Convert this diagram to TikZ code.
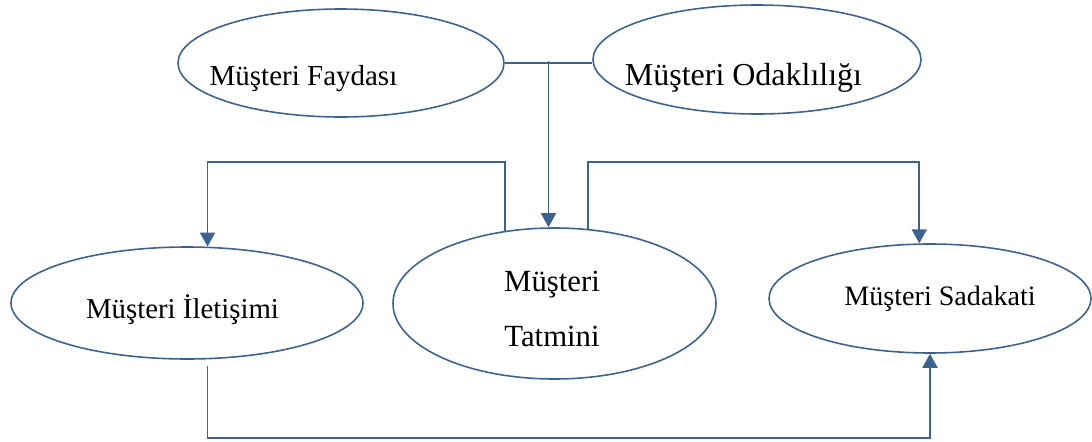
\documentclass[tikz,border=0pt]{standalone}
\usepackage{fontspec}
\setmainfont{Liberation Serif}
\usetikzlibrary{shapes.geometric, arrows.meta, calc}
\definecolor{linkblue}{RGB}{60,98,145}

\begin{document}
\begin{tikzpicture}[>={Triangle[length=0.28cm,width=0.3cm]},
  oval/.style={draw=linkblue, line width=0.9pt, ellipse, inner sep=0pt},
  link/.style={draw=linkblue, line width=1.1pt}]
  \useasboundingbox (0,0) rectangle (21.84,8.82);
  % top row
  \node[oval, minimum width=6.52cm, minimum height=2.16cm,
    label={[shift={(-0.75,-0.31)}, font=\fontsize{16.5}{20}\selectfont]center:Müşteri Faydası}] (fayda) at (6.82,7.56) {};
  \node[oval, minimum width=6.56cm, minimum height=2.18cm,
    label={[shift={(-0.27,-0.37)}, font=\fontsize{18.2}{22}\selectfont]center:Müşteri Odaklılığı}] (odak) at (15.14,7.63) {};
  % bottom row
  \node[oval, minimum width=7.04cm, minimum height=2.24cm,
    label={[shift={(-0.09,-0.13)}, font=\fontsize{16.4}{20}\selectfont]center:Müşteri İletişimi}] (iletisim) at (3.74,2.76) {};
  \node[oval, minimum width=6.46cm, minimum height=3.02cm,
    label={[shift={(-0.05,-0.11)}, align=center, font=\fontsize{17.5}{31}\selectfont]center:Müşteri\\Tatmini}] (tatmin) at (11.09,2.75) {};
  \node[oval, minimum width=6.44cm, minimum height=2.18cm,
    label={[shift={(0.2,0)}, font=\fontsize{16}{20}\selectfont]center:Müşteri Sadakati}] (sadakat) at (18.60,2.85) {};
  % connectors
  \coordinate (mid) at ($(fayda.east)!0.5!(odak.west)$);
  \coordinate (upper) at (0,5.58);
  \coordinate (lower) at (0,0.06);
  \coordinate (start) at ([yshift=-0.14cm]iletisim.-70);
  \draw[link] (fayda.east) -- (fayda.east -| odak.west);
  \draw[link, ->] (mid) -- (mid |- tatmin.north);
  \draw[link, ->] (tatmin.124) -- (tatmin.124 |- upper) -| (iletisim.70);
  \draw[link, ->] (tatmin.66) -- (tatmin.66 |- upper) -| (sadakat.101);
  \draw[link, ->] (start) -- (start |- lower) -| (sadakat.south);
\end{tikzpicture}
\end{document}
